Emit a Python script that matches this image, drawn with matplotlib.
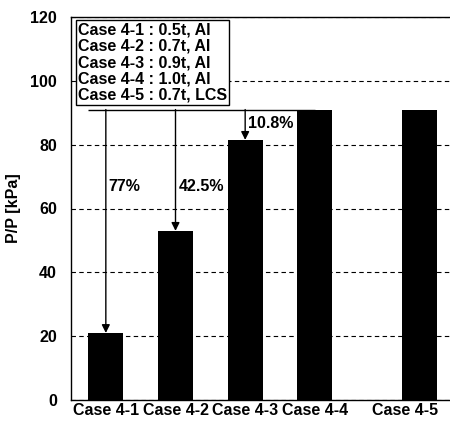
import matplotlib
matplotlib.use("Agg")
import matplotlib.pyplot as plt

plt.rcParams['font.family'] = ['Liberation Sans', 'DejaVu Sans']
plt.rcParams['font.weight'] = 'bold'

# peak pressure per case
cases = ['Case 4-1', 'Case 4-2', 'Case 4-3', 'Case 4-4', 'Case 4-5']
positions = [1, 2, 3, 4, 5.5]
tick_pos = [1, 2, 3, 4, 5.3]
pressure = [21, 53, 81.5, 91, 91]

# reduction relative to Case 4-4 (label, height of label)
reductions = ['77%', '42.5%', '10.8%']
label_y = [67, 67, 86.5]

legend_lines = ['Case 4-1 : 0.5t, Al',
                'Case 4-2 : 0.7t, Al',
                'Case 4-3 : 0.9t, Al',
                'Case 4-4 : 1.0t, Al',
                'Case 4-5 : 0.7t, LCS']

fig = plt.figure(figsize=(4.5, 4.22), dpi=100)
ax = fig.add_axes([71 / 450, 22 / 422, 379 / 450, 383 / 422])

ax.bar(positions, pressure, width=0.5, color='black', zorder=3)

ax.set_xlim(0.5, 5.94)
ax.set_ylim(0, 120)
ax.set_yticks(range(0, 121, 20))
ax.set_xticks(tick_pos)
ax.set_xticklabels(cases)
ax.tick_params(axis='both', length=0, labelsize=11.5)
ax.tick_params(axis='y', pad=10)
ax.tick_params(axis='x', pad=2)
ax.set_ylabel('P/P [kPa]', fontsize=11.5, fontweight='bold')
ax.yaxis.set_label_coords(-0.132, 0.5)
ax.spines['right'].set_visible(False)
for s in ['left', 'bottom', 'top']:
    ax.spines[s].set_linewidth(1.0)

ax.grid(axis='y', linestyle=(0, (4, 3)), color='black', linewidth=0.8, zorder=1)

# reference level of Case 4-4 and arrows down to each thinner case
ref = pressure[3]
ax.hlines(ref, positions[0] - 0.25, positions[3], color='black', linewidth=1.0, zorder=2)
for x, y, txt, ty in zip(positions[:3], pressure[:3], reductions, label_y):
    ax.annotate('', xy=(x, y), xytext=(x, ref),
                arrowprops=dict(arrowstyle='-|>', color='black', lw=1.0,
                                mutation_scale=12, shrinkA=0, shrinkB=0),
                zorder=4)
    ax.text(x + 0.04, ty, txt, fontsize=11.5, fontweight='bold', va='center', ha='left', zorder=5)

ax.text(0.6, 118.2, '\n'.join(legend_lines), fontsize=11.5, fontweight='bold',
        va='top', ha='left', linespacing=1.1, zorder=6,
        bbox=dict(boxstyle='square,pad=0.15', fc='white', ec='black', lw=1.0))

fig.savefig('out.png', dpi=100)
